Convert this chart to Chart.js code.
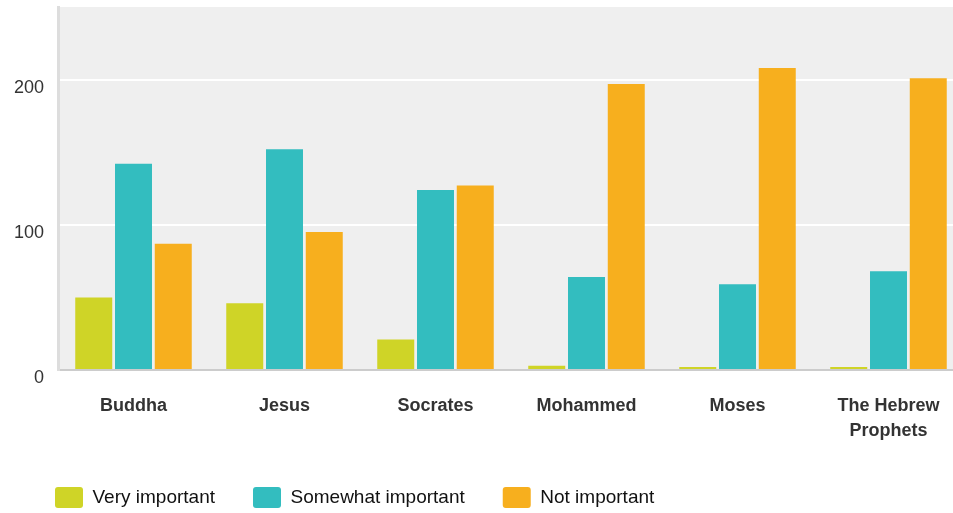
<!DOCTYPE html>
<html>
<head>
<meta charset="utf-8">
<script src="https://cdn.jsdelivr.net/npm/chart.js@4"></script>
<style>
  html, body { margin: 0; padding: 0; background: #fff; overflow: hidden; }
  #wrap { width: 964px; height: 518px; }
</style>
</head>
<body>
<div id="wrap"><canvas id="chart"></canvas></div>
<script>
const categories = ['Buddha', 'Jesus', 'Socrates', 'Mohammed', 'Moses', ['The Hebrew', 'Prophets']];
const seriesNames = ['Very important', 'Somewhat important', 'Not important'];
const veryImportant = [50, 46, 21, 3, 2, 2];
const somewhatImportant = [142, 152, 124, 64, 59, 68];
const notImportant = [87, 95, 127, 197, 208, 201];
const yTicks = [0, 100, 200];
const colors = ['#cfd427', '#33bdbf', '#f7af1e'];

// grey plot background
const plotBg = {
  id: 'plotBg',
  beforeDraw(chart) {
    const { ctx, chartArea: a } = chart;
    ctx.save();
    ctx.fillStyle = '#efefef';
    ctx.fillRect(a.left, a.top, a.right - a.left, a.bottom - a.top);
    ctx.restore();
  }
};

// nudge the legend a little to the right
const legendShift = {
  id: 'legendShift',
  afterLayout(chart) {
    chart.legend.left += 5;
    chart.legend.right += 5;
  }
};

const ctx = document.getElementById('chart').getContext('2d');
new Chart(ctx, {
  type: 'bar',
  data: {
    labels: categories,
    datasets: [veryImportant, somewhatImportant, notImportant].map((d, i) => ({
      label: seriesNames[i],
      data: d,
      backgroundColor: colors[i],
      borderWidth: 0,
      categoryPercentage: 0.79,
      barPercentage: 0.93
    }))
  },
  options: {
    responsive: true,
    maintainAspectRatio: false,
    animation: false,
    layout: { padding: { left: 12, top: 7, right: 0, bottom: 0 } },
    plugins: {
      tooltip: { enabled: false },
      legend: {
        position: 'bottom',
        align: 'start',
        labels: {
          boxWidth: 28,
          boxHeight: 21,
          useBorderRadius: true,
          borderRadius: 3,
          padding: 38,
          color: '#111',
          font: { family: 'Liberation Sans, Arial, sans-serif', size: 19 }
        }
      }
    },
    scales: {
      x: {
        grid: { display: false, drawTicks: false },
        border: { display: true, color: '#cccccc', width: 2 },
        afterFit: s => { s.height = 79; },
        ticks: {
          color: '#333',
          autoSkip: false,
          maxRotation: 0,
          padding: 24,
          font: { family: 'Liberation Sans, Arial, sans-serif', size: 18, weight: 'bold', lineHeight: 1.39 }
        }
      },
      y: {
        min: 0,
        max: 250,
        afterBuildTicks: axis => { axis.ticks = yTicks.map(v => ({ value: v })); },
        afterFit: s => { s.width = 46; s.paddingTop = 0; s.paddingBottom = 0; },
        grid: {
          drawTicks: false,
          lineWidth: 2,
          color: c => (c.tick && c.tick.value === 0 ? 'rgba(0,0,0,0)' : '#ffffff')
        },
        border: { display: true, color: '#dddddd', width: 3 },
        ticks: {
          color: '#333',
          padding: 14,
          labelOffset: 8,
          font: { family: 'Liberation Sans, Arial, sans-serif', size: 18 }
        }
      }
    }
  },
  plugins: [plotBg, legendShift]
});
</script>
</body>
</html>
